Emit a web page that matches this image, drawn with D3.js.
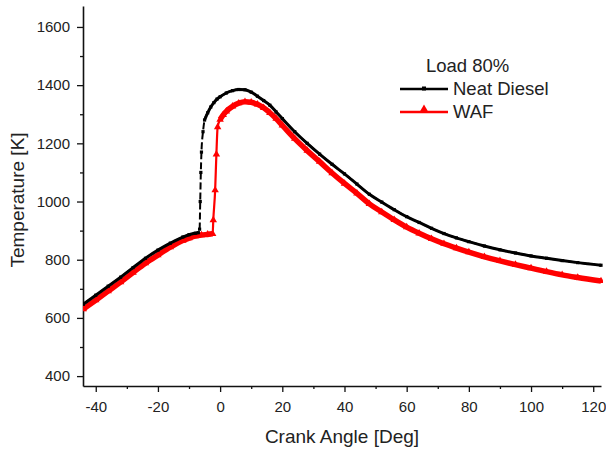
<!DOCTYPE html>
<html>
<head>
<meta charset="utf-8">
<script src="https://cdn.jsdelivr.net/npm/d3@7"></script>
<style>
  body { margin: 0; background: #fff; }
  svg text { font-family: "Liberation Sans", Arial, sans-serif; fill: #222; }
</style>
</head>
<body>
<div class="container"></div>
<script>
// crank angle (deg) and in-cylinder temperature (K)
const dieselAngle = [-44,-40,-36,-32,-28,-24,-20,-16,-12,-10,-8,-7,-6.6,-6.4,-6.2,-6,-5.5,-5,-4,-3,-2,-1,0,2,4,6,8,10,12,14,16,18,20,24,28,32,36,40,44,48,52,56,60,64,68,72,76,80,85,90,95,100,105,110,115,122.5];
const dieselTemp  = [647,678,709,740,773,805,833,857,878,886,891,893,905,1000,1100,1170,1240,1280,1305,1325,1340,1352,1360,1373,1381,1385,1384,1376,1362,1347,1331,1308,1285,1240,1200,1163,1128,1095,1060,1025,998,972,948,928,908,890,875,862,847,834,823,813,805,797,790,781];

const wafAngle = [-44,-40,-36,-32,-28,-24,-20,-16,-12,-10,-8,-6,-4,-2.4,-2.2,-1.6,-1.2,-0.8,0,1,2,4,6,8,10,12,14,16,18,20,24,28,32,36,40,44,48,52,56,60,64,68,72,76,80,85,90,95,100,105,110,115,122.5];
const wafTemp  = [630,661,692,723,756,788,816,843,866,874,881,885,887,889,936,1039,1162,1256,1282,1298,1310,1327,1338,1343,1341,1334,1322,1305,1285,1262,1216,1175,1137,1098,1062,1028,992,964,937,912,891,872,855,840,826,810,796,783,771,759,748,739,727];

const xTicks = [-40,-20,0,20,40,60,80,100,120];
const yTicks = [400,600,800,1000,1200,1400,1600];

const W = 606, H = 451;
const mLeft = 83, mRight = 601, mTop = 6, mBottom = 386;

const svg = d3.select('.container')
  .append('svg')
  .attr('width', W)
  .attr('height', H);

const x = d3.scaleLinear().domain([-44.1, 122.5]).range([mLeft, mRight]);
const y = d3.scaleLinear().domain([366, 1672]).range([mBottom, mTop]);
const plain = d => String(d); // "-40", "1600" (no unicode minus, no comma)

// axes - minor ticks first, then major ones with labels (outward)
svg.append('g').attr('transform', `translate(0,${mBottom})`)
  .call(d3.axisBottom(x).tickValues(d3.range(-30, 121, 20)).tickSize(3).tickFormat(''))
  .call(g => g.select('.domain').remove());
svg.append('g').attr('transform', `translate(0,${mBottom})`)
  .call(d3.axisBottom(x).tickValues(xTicks).tickFormat(plain).tickSize(6).tickSizeOuter(0).tickPadding(9));

svg.append('g').attr('transform', `translate(${mLeft},0)`)
  .call(d3.axisLeft(y).tickValues(d3.range(500, 1601, 200)).tickSize(3).tickFormat(''))
  .call(g => g.select('.domain').remove());
svg.append('g').attr('transform', `translate(${mLeft},0)`)
  .call(d3.axisLeft(y).tickValues(yTicks).tickFormat(plain).tickSize(6).tickSizeOuter(0).tickPadding(7));

svg.selectAll('.domain').attr('stroke', '#111').attr('stroke-width', 1.6);
svg.selectAll('.tick line').attr('stroke', '#111').attr('stroke-width', 1.3);
svg.selectAll('.tick text')
  .style('font-family', '"Liberation Sans", Arial, sans-serif')
  .style('font-size', '15px')
  .attr('fill', '#222');

// clip to plot
svg.append('clipPath').attr('id', 'plot')
  .append('rect').attr('x', mLeft).attr('y', mTop).attr('width', mRight - mLeft + 2).attr('height', mBottom - mTop);

const diesel = dieselAngle.map((a, i) => [a, dieselTemp[i]]);
const waf = wafAngle.map((a, i) => [a, wafTemp[i]]);

// a point is "dense" when its neighbours are close vertically on screen;
// there the overlapping markers make the line look thick, in the jump it stays thin
function dense(arr) {
  const py = arr.map(d => y(d[1]));
  return arr.map((d, i) => {
    const p = i > 0 ? Math.abs(py[i] - py[i - 1]) : 0;
    const n = i < arr.length - 1 ? Math.abs(py[i] - py[i + 1]) : 0;
    return p < 16 && n < 16;
  });
}
const dieselDense = dense(diesel);
const wafDense = dense(waf);

const line = d3.line()
  .x(d => x(d[0]))
  .y(d => y(d[1]))
  .curve(d3.curveMonotoneX);

const plot = svg.append('g').attr('clip-path', 'url(#plot)');

// WAF first (under black)
plot.append('path')
  .datum(waf)
  .attr('fill', 'none')
  .attr('stroke', '#ff0000')
  .attr('stroke-width', 2.2)
  .attr('d', line);
plot.append('path')
  .datum(waf)
  .attr('fill', 'none')
  .attr('stroke', '#ff0000')
  .attr('stroke-width', 5.5)
  .attr('d', line.defined((d, i) => wafDense[i]));

const tri = d3.symbol().type(d3.symbolTriangle).size(24);
plot.selectAll('.tri')
  .data(waf)
  .join('path')
  .attr('transform', d => `translate(${x(d[0])},${y(d[1])})`)
  .attr('d', tri)
  .attr('fill', '#ff0000');

line.defined(() => true);
plot.append('path')
  .datum(diesel)
  .attr('fill', 'none')
  .attr('stroke', '#000')
  .attr('stroke-width', 2)
  .attr('stroke-dasharray', '7,3')
  .attr('d', line);
plot.append('path')
  .datum(diesel)
  .attr('fill', 'none')
  .attr('stroke', '#000')
  .attr('stroke-width', 3)
  .attr('d', line.defined((d, i) => dieselDense[i]));

plot.selectAll('.sq')
  .data(diesel)
  .join('rect')
  .attr('x', d => x(d[0]) - 1.6)
  .attr('y', d => y(d[1]) - 1.6)
  .attr('width', 3.2)
  .attr('height', 3.2)
  .attr('fill', '#000');

// axis titles
svg.append('text')
  .attr('x', 342)
  .attr('y', 443)
  .attr('text-anchor', 'middle')
  .style('font-size', '19px')
  .text('Crank Angle [Deg]');

svg.append('text')
  .attr('transform', `translate(24,200) rotate(-90)`)
  .attr('text-anchor', 'middle')
  .style('font-size', '19px')
  .text('Temperature [K]');

// legend
const lg = svg.append('g');
lg.append('text').attr('x', 426).attr('y', 72).style('font-size', '18.5px').text('Load 80%');

lg.append('line').attr('x1', 400).attr('x2', 448).attr('y1', 89).attr('y2', 89)
  .attr('stroke', '#000').attr('stroke-width', 2.5);
lg.append('rect').attr('x', 422).attr('y', 86.5).attr('width', 4).attr('height', 4).attr('fill', '#000');
lg.append('text').attr('x', 453).attr('y', 95).style('font-size', '18.5px').text('Neat Diesel');

lg.append('line').attr('x1', 400).attr('x2', 448).attr('y1', 112).attr('y2', 112)
  .attr('stroke', '#ff0000').attr('stroke-width', 2.5);
lg.append('path').attr('transform', 'translate(424,110)').attr('d', d3.symbol().type(d3.symbolTriangle).size(40)).attr('fill', '#ff0000');
lg.append('text').attr('x', 453).attr('y', 118).style('font-size', '18.5px').text('WAF');
</script>
</body>
</html>
